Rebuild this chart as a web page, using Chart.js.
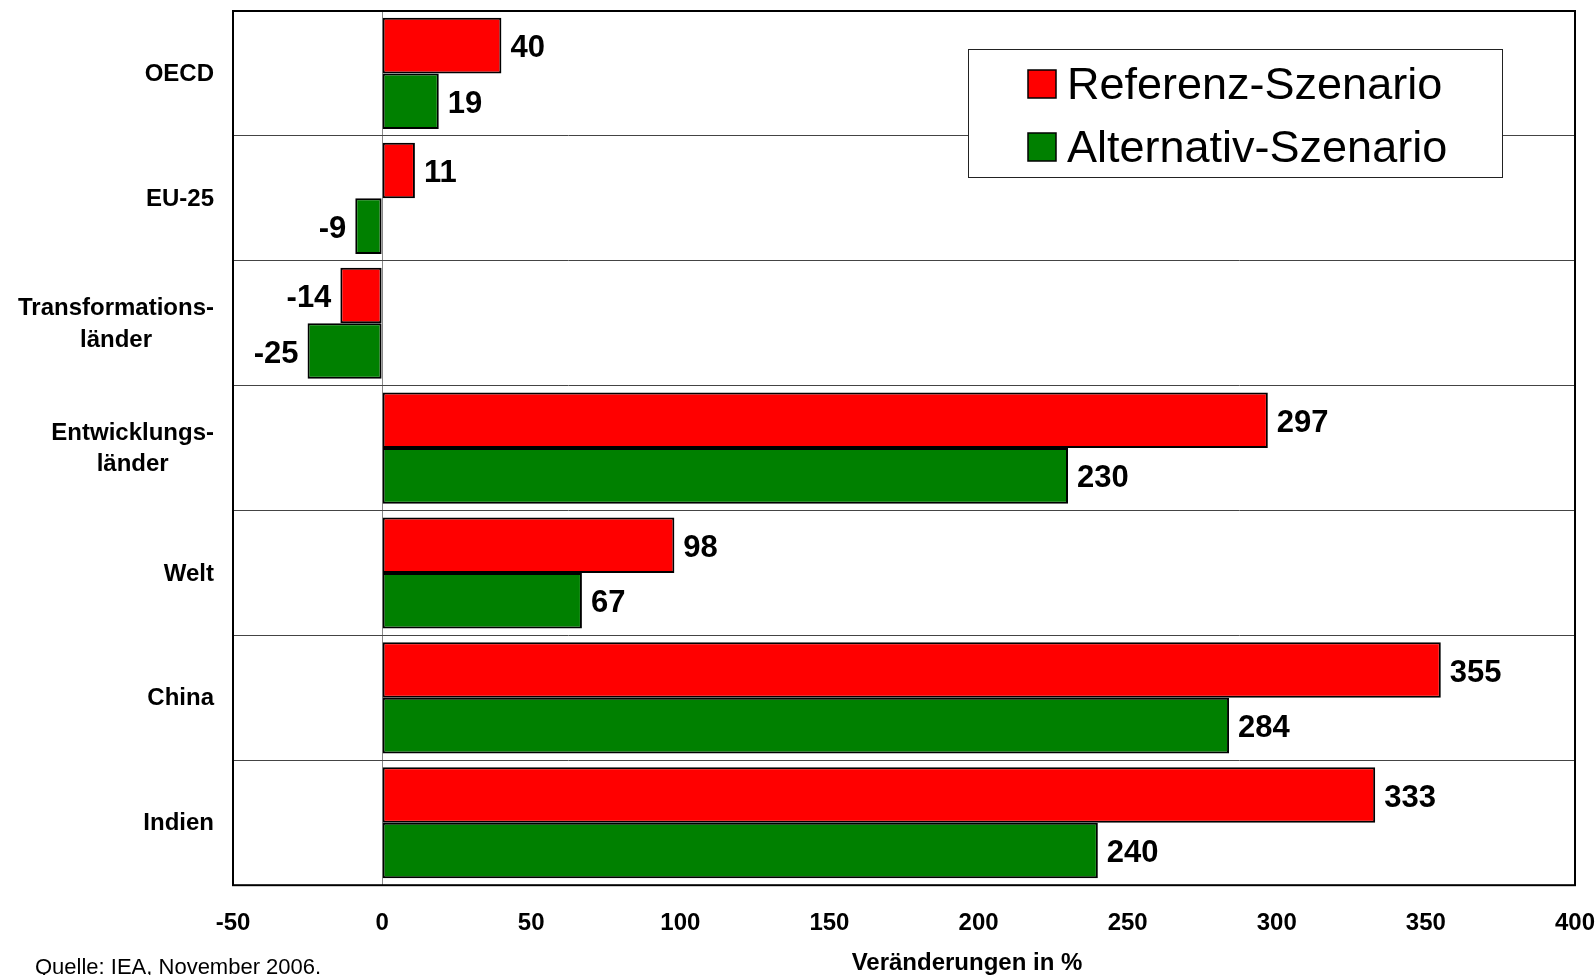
<!DOCTYPE html>
<html>
<head>
<meta charset="utf-8">
<script src="https://cdn.jsdelivr.net/npm/chart.js@4.4.1/dist/chart.umd.min.js"></script>
<style>
    html, body { margin: 0; background: #fff; overflow: hidden; }
    #wrap { width: 1596px; height: 975px; position: relative; }
</style>
</head>
<body>
<div id="wrap"><canvas id="veraenderungChart"></canvas></div>
<script>
// Regionen (mehrzeilige Beschriftungen als Arrays)
var regionen = ['OECD', 'EU-25', ['Transformations-', 'länder'], ['Entwicklungs-', 'länder'], 'Welt', 'China', 'Indien'];
var referenz = [40, 11, -14, 297, 98, 355, 333];
var alternativ = [19, -9, -25, 230, 67, 284, 240];
var serienNamen = ['Referenz-Szenario', 'Alternativ-Szenario'];
var xTicks = [-50, 0, 50, 100, 150, 200, 250, 300, 350, 400];
var achsenTitel = 'Veränderungen in %';
var quelle = 'Quelle: IEA, November 2006.';

var schrift = '"Liberation Sans", Arial, Helvetica, sans-serif';

// Werte neben die Balken schreiben
var wertePlugin = {
    id: 'werte',
    afterDatasetsDraw: function (chart) {
        var ctx = chart.ctx;
        ctx.save();
        ctx.font = 'bold 31px ' + schrift;
        ctx.fillStyle = '#000';
        ctx.textBaseline = 'middle';
        chart.data.datasets.forEach(function (ds, di) {
            var meta = chart.getDatasetMeta(di);
            meta.data.forEach(function (bar, i) {
                var v = ds.data[i];
                if (v >= 0) {
                    ctx.textAlign = 'left';
                    ctx.fillText(String(v), bar.x + 9, bar.y + 3);
                } else {
                    ctx.textAlign = 'right';
                    ctx.fillText(String(v), bar.x - 9, bar.y + 3);
                }
            });
        });
        ctx.restore();
    }
};

// Rahmen, Kategorien, Legende, Achsentitel, Quelle
var rahmenPlugin = {
    id: 'rahmen',
    afterDraw: function (chart) {
        var ctx = chart.ctx;
        var a = chart.chartArea;
        var yScale = chart.scales.y;
        ctx.save();

        // Rahmen
        ctx.strokeStyle = '#000';
        ctx.lineWidth = 2;
        ctx.strokeRect(a.left, a.top, a.right - a.left, a.bottom - a.top);

        // Kategorien links, Zeilen zentriert, Block rechtsbündig
        ctx.font = 'bold 24px ' + schrift;
        ctx.fillStyle = '#000';
        ctx.textBaseline = 'middle';
        ctx.textAlign = 'center';
        regionen.forEach(function (lab, i) {
            var zeilen = Array.isArray(lab) ? lab : [lab];
            var breite = 0;
            zeilen.forEach(function (z) { breite = Math.max(breite, ctx.measureText(z).width); });
            var cx = a.left - 19 - breite / 2;
            var cy = yScale.getPixelForValue(i) + 1;
            var start = cy - (zeilen.length - 1) * 31.5 / 2;
            zeilen.forEach(function (z, k) {
                ctx.fillText(z, cx, start + k * 31.5);
            });
        });

        // Legende
        var lx = 968, ly = 49, lw = 534, lh = 128;
        ctx.fillStyle = '#fff';
        ctx.fillRect(lx, ly, lw, lh);
        ctx.strokeStyle = '#222';
        ctx.lineWidth = 1;
        ctx.strokeRect(lx + 0.5, ly + 0.5, lw, lh);
        ctx.font = '45px ' + schrift;
        ctx.textAlign = 'left';
        chart.data.datasets.forEach(function (ds, di) {
            var ry = 84 + di * 63;
            ctx.fillStyle = ds.backgroundColor;
            ctx.fillRect(1028, ry - 14, 28, 28);
            ctx.strokeStyle = '#000';
            ctx.lineWidth = 1.5;
            ctx.strokeRect(1028, ry - 14, 28, 28);
            ctx.fillStyle = '#000';
            ctx.fillText(ds.label, 1067, ry + 3);
        });

        // Achsentitel
        ctx.font = 'bold 24px ' + schrift;
        ctx.textAlign = 'center';
        ctx.fillText(achsenTitel, 967, 963);

        // Quelle
        ctx.font = '22px ' + schrift;
        ctx.textAlign = 'left';
        ctx.textBaseline = 'alphabetic';
        ctx.fillText(quelle, 35, 974);
        ctx.restore();
    }
};

var ctx = document.getElementById('veraenderungChart').getContext('2d');
var veraenderungChart = new Chart(ctx, {
    type: 'bar',
    data: {
        labels: regionen,
        datasets: [
            {
                label: serienNamen[0],
                data: referenz,
                backgroundColor: '#ff0000',
                borderColor: '#000',
                borderWidth: 2,
                borderSkipped: false
            },
            {
                label: serienNamen[1],
                data: alternativ,
                backgroundColor: '#008000',
                borderColor: '#000',
                borderWidth: 2,
                borderSkipped: false
            }
        ]
    },
    options: {
        indexAxis: 'y',
        responsive: true,
        maintainAspectRatio: false,
        animation: false,
        categoryPercentage: 0.89,
        barPercentage: 1,
        layout: {
            padding: { left: 233, right: 21, top: 11, bottom: 13 }
        },
        scales: {
            x: {
                min: -50,
                max: 400,
                afterBuildTicks: function (axis) {
                    axis.ticks = xTicks.map(function (v) { return { value: v }; });
                },
                afterFit: function (axis) {
                    axis.paddingLeft = 0;
                    axis.paddingRight = 0;
                },
                ticks: {
                    color: '#000',
                    padding: 24,
                    maxRotation: 0,
                    font: { family: schrift, size: 24, weight: 'bold' }
                },
                grid: {
                    drawTicks: false,
                    color: function (c) { return c.tick && c.tick.value === 0 ? '#888' : 'rgba(0,0,0,0)'; },
                    lineWidth: 1
                },
                border: { display: false }
            },
            y: {
                ticks: { display: false },
                grid: {
                    offset: true,
                    drawTicks: false,
                    color: '#444',
                    lineWidth: 1
                },
                border: { display: false }
            }
        },
        plugins: {
            legend: { display: false },
            tooltip: { enabled: false }
        }
    },
    plugins: [wertePlugin, rahmenPlugin]
});
</script>
</body>
</html>
